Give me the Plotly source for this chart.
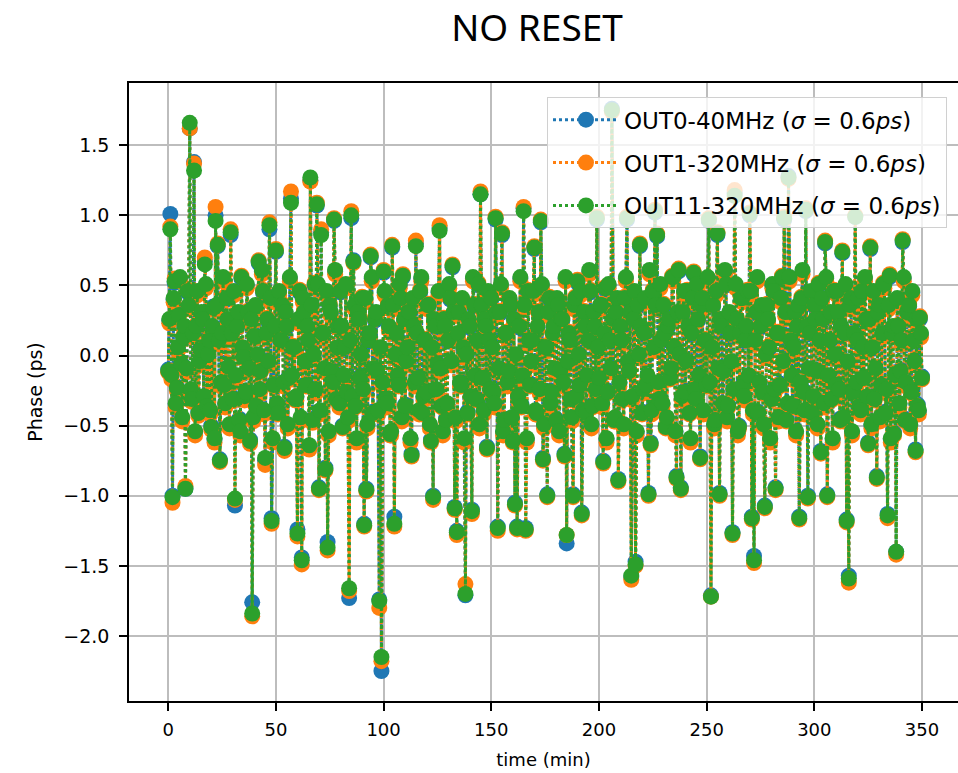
import plotly.graph_objects as go

# whole-minute samples
time_min = list(range(0, 351))
# half-minute samples
time_half = [t + 0.5 for t in range(0, 350)]

out0_40mhz = [
    -0.10, 1.01, -1.00, 0.52, -0.22, 0.30, -0.05, 0.12, -0.95, 0.45,
    1.62, -0.30, 1.38, 0.20, -0.40, 0.05, 0.25, 0.67, -0.35, 0.10,
    -0.50, 0.35, 1.00, 0.78, -0.74, 0.15, -0.20, 0.40, -0.10, 0.86,
    -0.30, -1.07, 0.20, -0.45, 0.55, 0.00, -0.25, 0.30, -0.60, -1.76,
    0.15, -0.35, 0.66, -0.10, 0.45, -0.75, 0.25, 0.90, -1.16, -0.20,
    0.74, -0.40, 0.10, 0.35, -0.65, 0.20, -0.15, 1.12, 0.05, -0.30,
    -1.24, 0.45, -1.44, 0.30, -0.20, 0.10, 1.25, -0.45, 0.50, 1.07,
    -0.94, 0.88, 0.15, -0.80, -1.33, 0.35, -0.10, 0.96, -0.30, 0.20,
    0.45, -0.50, 0.05, -0.25, -1.73, 0.98, 0.68, -0.35, 0.30, -0.15,
    0.40, -1.20, -0.95, 0.10, 0.70, -0.40, 0.25, -0.10, -1.74, -2.25,
    0.59, -0.30, 0.35, -0.55, 0.77, -1.15, 0.15, -0.20, 0.40, 0.56,
    -0.35, 0.05, 0.30, -0.70, 0.20, 0.80, -0.15, 0.45, -0.40, 0.10,
    -0.25, 0.35, -0.60, -1.00, 0.20, -0.05, 0.91, -0.35, 0.25, -0.45,
    0.10, 0.40, 0.63, -1.08, -1.25, 0.30, -0.20, 0.05, -1.71, -0.40,
    0.20, -1.10, 0.35, -0.30, 0.50, 1.15, -0.15, 0.25, -0.65, 0.10,
    0.40, -0.25, 0.97, -1.22, 0.30, 0.86, -0.45, 0.15, -0.10, 0.35,
    -0.60, -1.05, -1.22, 0.20, -0.35, 1.05, -1.23, 0.45, -0.20, 0.10,
    0.76, -0.40, 0.30, 0.95, -0.73, 0.05, -0.99, 0.40, -0.25, 0.20,
    -0.45, 0.35, -0.10, 0.25, -0.70, -1.34, 0.15, -0.30, -0.99, 0.40,
    0.52, -0.20, -1.12, 0.30, -0.40, 0.10, 0.45, -0.35, 0.20, 0.97,
    -0.15, 0.35, -0.75, 0.47, -0.25, 0.10, 1.76, -0.45, 0.30, -0.88,
    0.20, -0.30, 0.40, 0.97, -0.10, -1.58, 0.25, -1.47, 0.35, 0.78,
    -0.40, 0.15, -0.20, -0.98, -0.62, 0.45, 1.02, 0.85, -0.30, 0.10,
    0.35, -0.50, 0.20, -0.15, 0.55, 0.05, -0.86, 0.60, -0.94, 0.30,
    -0.25, 0.45, -0.40, 0.15, 0.58, -0.30, 0.25, -0.72, 0.40, 0.10,
    -0.20, 0.96, -1.71, 0.35, -0.45, 0.86, -0.98, 0.20, -0.10, 0.50,
    -0.35, 0.15, -1.26, 1.16, 0.25, -0.50, 0.40, -0.20, 0.10, 0.45,
    1.00, -1.15, -1.43, 0.30, -0.40, 0.20, -0.25, -1.07, 0.35, 0.05,
    -0.30, 0.45, -0.94, 0.15, -0.20, 0.55, 0.97, -0.45, 1.28, 0.10,
    -0.35, 0.30, 0.20, -1.15, 0.40, -0.25, 1.03, -1.00, 0.15, -0.40,
    0.35, -0.10, 0.50, -0.68, 0.25, 0.80, -0.99, 0.10, -0.30, 0.45,
    -0.20, 0.30, -0.45, 0.73, 0.15, -1.17, -1.57, 0.40, -0.25, 0.99,
    0.10, -0.35, 0.45, -0.15, 0.25, -0.62, 0.76, 0.05, -0.30, -0.86,
    0.35, -0.20, 0.50, -0.40, -1.13, 0.56, 0.15, -0.55, -1.40, 0.20,
    -0.10, 0.81, -0.45, 0.30, 0.35, -0.25, 0.10, -0.67, -0.35, 0.26,
    -0.15,
]
out0_40mhz_half = [
    0.25, -0.15, 0.40, -0.35, 0.05, 0.55, -0.45, 0.20, -0.10, 0.35,
    -0.25, 0.15, -0.55, 0.45, -0.05, 0.30, -0.30, 0.50, 0.00, -0.40,
    0.20, -0.60, 0.35, 0.10, -0.20, 0.55, -0.35, 0.25, -0.50, 0.15,
    0.45, -0.15, 0.30, -0.55, 0.05, -0.30, 0.50, -0.10, 0.25, -0.45,
    0.35, 0.00, -0.25, 0.60, -0.40, 0.15, -0.05, 0.40, -0.60, 0.20,
    -0.35, 0.45, 0.10, -0.20, 0.30, -0.50, 0.55, -0.15, 0.05, -0.30,
    0.25, -0.45, 0.40, -0.05, 0.20, -0.65, 0.35, 0.00, -0.25, 0.50,
    -0.40, 0.15, -0.10, 0.45, -0.55, 0.30, -0.20, 0.60, 0.05, -0.35,
    0.20, -0.15, 0.50, -0.45, 0.10, -0.30, 0.35, -0.60, 0.25, 0.00,
    -0.25, 0.40, -0.50, 0.15, 0.55, -0.10, 0.30, -0.40, 0.05, -0.20,
    0.45, -0.35, 0.20, -0.55, 0.35, 0.00, -0.15, 0.50, -0.45, 0.25,
    -0.05, 0.30, -0.60, 0.40, -0.20, 0.15, -0.40, 0.55, -0.30, 0.10,
    0.35, -0.50, 0.05, 0.25, -0.25, 0.45, -0.10, -0.55, 0.20, -0.35,
    0.50, -0.05, 0.30, -0.45, 0.15, -0.20, 0.40, -0.60, 0.00, 0.25,
    -0.30, 0.55, -0.15, 0.10, -0.50, 0.35, -0.40, 0.20, 0.45, -0.25,
    0.05, -0.35, 0.30, -0.10, 0.50, -0.55, 0.15, -0.20, 0.40, -0.45,
    0.25, 0.00, -0.30, 0.55, -0.15, 0.35, -0.60, 0.10, -0.05, 0.45,
    -0.40, 0.20, -0.25, 0.50, -0.50, 0.05, 0.30, -0.35, 0.15, -0.10,
    0.40, -0.55, 0.25, -0.20, 0.55, -0.05, 0.10, -0.45, 0.35, -0.30,
    0.00, 0.45, -0.40, 0.20, -0.15, 0.60, -0.50, 0.30, -0.25, 0.05,
    0.35, -0.35, 0.15, -0.60, 0.50, -0.10, 0.25, -0.45, 0.40, -0.20,
    0.10, -0.50, 0.55, -0.05, 0.30, -0.30, 0.45, -0.55, 0.00, 0.20,
    -0.25, 0.40, -0.15, 0.60, -0.40, 0.05, 0.35, -0.20, 0.50, -0.35,
    0.15, -0.45, 0.25, -0.10, 0.55, -0.55, 0.30, 0.00, -0.30, 0.45,
    -0.05, 0.20, -0.60, 0.40, -0.25, 0.50, -0.15, 0.35, -0.40, 0.10,
    0.55, -0.20, 0.05, -0.50, 0.45, -0.10, 0.25, -0.35, 0.60, -0.45,
    0.30, -0.05, -0.25, 0.50, -0.55, 0.15, 0.40, -0.30, 0.20, -0.15,
    0.45, -0.40, 0.10, 0.55, -0.20, 0.35, -0.50, 0.00, 0.25, -0.60,
    0.50, -0.25, 0.15, -0.45, 0.40, -0.05, 0.30, -0.35, 0.55, -0.15,
    0.05, -0.55, 0.35, -0.20, 0.60, -0.40, 0.20, -0.10, 0.45, -0.30,
    0.25, -0.50, 0.10, 0.40, -0.35, 0.55, -0.15, 0.30, -0.60, 0.00,
    0.45, -0.25, 0.20, -0.45, 0.50, -0.05, 0.35, -0.55, 0.15, -0.20,
    0.40, -0.40, 0.05, 0.55, -0.30, 0.25, -0.50, 0.45, -0.10, 0.30,
    -0.45, 0.15, 0.50, -0.25, 0.35, -0.60, 0.20, -0.15, 0.40, -0.35,
    0.10, 0.55, -0.20, 0.30, -0.50, 0.45, -0.05, 0.25, -0.40, 0.15,
]

out1_320mhz = [
    -0.12, 0.92, -1.05, 0.55, -0.25, 0.28, -0.08, 0.14, -0.93, 0.47,
    1.62, -0.33, 1.37, 0.22, -0.43, 0.03, 0.27, 0.70, -0.37, 0.12,
    -0.53, 0.33, 1.06, 0.80, -0.76, 0.17, -0.22, 0.43, -0.13, 0.90,
    -0.32, -1.03, 0.22, -0.47, 0.57, -0.02, -0.28, 0.32, -0.63, -1.86,
    0.13, -0.37, 0.68, -0.12, 0.47, -0.78, 0.27, 0.95, -1.20, -0.22,
    0.76, -0.42, 0.12, 0.37, -0.68, 0.22, -0.17, 1.17, 0.07, -0.32,
    -1.29, 0.47, -1.49, 0.32, -0.22, 0.12, 1.24, -0.48, 0.52, 1.09,
    -0.96, 0.90, 0.17, -0.82, -1.39, 0.37, -0.12, 0.98, -0.32, 0.22,
    0.47, -0.52, 0.07, -0.27, -1.68, 1.03, 0.66, -0.37, 0.32, -0.17,
    0.42, -1.22, -0.97, 0.12, 0.72, -0.42, 0.27, -0.12, -1.80, -2.18,
    0.61, -0.32, 0.37, -0.57, 0.79, -1.22, 0.17, -0.22, 0.42, 0.58,
    -0.37, 0.07, 0.32, -0.72, 0.22, 0.82, -0.17, 0.47, -0.42, 0.12,
    -0.27, 0.37, -0.62, -1.03, 0.22, -0.07, 0.93, -0.37, 0.27, -0.47,
    0.12, 0.42, 0.65, -1.10, -1.28, 0.32, -0.22, 0.07, -1.63, -0.42,
    0.22, -1.13, 0.37, -0.32, 0.52, 1.17, -0.17, 0.27, -0.67, 0.12,
    0.42, -0.27, 0.99, -1.25, 0.32, 0.88, -0.47, 0.17, -0.12, 0.37,
    -0.62, -1.07, -1.24, 0.22, -0.37, 1.06, -1.25, 0.47, -0.22, 0.12,
    0.78, -0.42, 0.32, 0.97, -0.75, 0.07, -1.01, 0.42, -0.27, 0.22,
    -0.47, 0.37, -0.12, 0.27, -0.72, -1.28, 0.17, -0.32, -1.01, 0.42,
    0.54, -0.22, -1.14, 0.32, -0.42, 0.12, 0.47, -0.37, 0.22, 0.99,
    -0.17, 0.37, -0.77, 0.49, -0.27, 0.12, 1.74, -0.47, 0.32, -0.90,
    0.22, -0.32, 0.42, 0.99, -0.12, -1.60, 0.27, -1.50, 0.37, 0.80,
    -0.42, 0.17, -0.22, -1.00, -0.64, 0.47, 1.04, 0.87, -0.32, 0.12,
    0.37, -0.52, 0.22, -0.17, 0.57, 0.07, -0.88, 0.62, -0.96, 0.32,
    -0.27, 0.47, -0.42, 0.17, 0.60, -0.32, 0.27, -0.74, 0.42, 0.12,
    -0.22, 0.98, -1.72, 0.37, -0.47, 0.88, -1.00, 0.22, -0.12, 0.52,
    -0.37, 0.17, -1.28, 1.18, 0.27, -0.52, 0.42, -0.22, 0.12, 0.47,
    1.02, -1.17, -1.48, 0.32, -0.42, 0.22, -0.27, -1.09, 0.37, 0.07,
    -0.32, 0.47, -0.96, 0.17, -0.22, 0.57, 0.99, -0.47, 1.26, 0.12,
    -0.37, 0.32, 0.22, -1.17, 0.42, -0.27, 1.05, -1.02, 0.17, -0.42,
    0.37, -0.12, 0.52, -0.70, 0.27, 0.82, -1.01, 0.12, -0.32, 0.47,
    -0.22, 0.32, -0.47, 0.75, 0.17, -1.19, -1.62, 0.42, -0.27, 1.00,
    0.12, -0.37, 0.47, -0.17, 0.27, -0.64, 0.78, 0.07, -0.32, -0.88,
    0.37, -0.22, 0.52, -0.42, -1.16, 0.58, 0.17, -0.57, -1.42, 0.22,
    -0.12, 0.83, -0.47, 0.32, 0.37, -0.27, 0.12, -0.69, -0.37, 0.28,
    -0.17,
]
out1_320mhz_half = [
    0.23, -0.17, 0.38, -0.37, 0.03, 0.53, -0.47, 0.18, -0.12, 0.33,
    -0.27, 0.13, -0.57, 0.43, -0.07, 0.28, -0.32, 0.48, -0.02, -0.42,
    0.18, -0.62, 0.33, 0.08, -0.22, 0.53, -0.37, 0.23, -0.52, 0.13,
    0.43, -0.17, 0.28, -0.57, 0.03, -0.32, 0.48, -0.12, 0.23, -0.47,
    0.33, -0.02, -0.27, 0.58, -0.42, 0.13, -0.07, 0.38, -0.62, 0.18,
    -0.37, 0.43, 0.08, -0.22, 0.28, -0.52, 0.53, -0.17, 0.03, -0.32,
    0.23, -0.47, 0.38, -0.07, 0.18, -0.67, 0.33, -0.02, -0.27, 0.48,
    -0.42, 0.13, -0.12, 0.43, -0.57, 0.28, -0.22, 0.58, 0.03, -0.37,
    0.18, -0.17, 0.48, -0.47, 0.08, -0.32, 0.33, -0.62, 0.23, -0.02,
    -0.27, 0.38, -0.52, 0.13, 0.53, -0.12, 0.28, -0.42, 0.03, -0.22,
    0.43, -0.37, 0.18, -0.57, 0.33, -0.02, -0.17, 0.48, -0.47, 0.23,
    -0.07, 0.28, -0.62, 0.38, -0.22, 0.13, -0.42, 0.53, -0.32, 0.08,
    0.33, -0.52, 0.03, 0.23, -0.27, 0.43, -0.12, -0.57, 0.18, -0.37,
    0.48, -0.07, 0.28, -0.47, 0.13, -0.22, 0.38, -0.62, -0.02, 0.23,
    -0.32, 0.53, -0.17, 0.08, -0.52, 0.33, -0.42, 0.18, 0.43, -0.27,
    0.03, -0.37, 0.28, -0.12, 0.48, -0.57, 0.13, -0.22, 0.38, -0.47,
    0.23, -0.02, -0.32, 0.53, -0.17, 0.33, -0.62, 0.08, -0.07, 0.43,
    -0.42, 0.18, -0.27, 0.48, -0.52, 0.03, 0.28, -0.37, 0.13, -0.12,
    0.38, -0.57, 0.23, -0.22, 0.53, -0.07, 0.08, -0.47, 0.33, -0.32,
    -0.02, 0.43, -0.42, 0.18, -0.17, 0.58, -0.52, 0.28, -0.27, 0.03,
    0.33, -0.37, 0.13, -0.62, 0.48, -0.12, 0.23, -0.47, 0.38, -0.22,
    0.08, -0.52, 0.53, -0.07, 0.28, -0.32, 0.43, -0.57, -0.02, 0.18,
    -0.27, 0.38, -0.17, 0.58, -0.42, 0.03, 0.33, -0.22, 0.48, -0.37,
    0.13, -0.47, 0.23, -0.12, 0.53, -0.57, 0.28, -0.02, -0.32, 0.43,
    -0.07, 0.18, -0.62, 0.38, -0.27, 0.48, -0.17, 0.33, -0.42, 0.08,
    0.53, -0.22, 0.03, -0.52, 0.43, -0.12, 0.23, -0.37, 0.58, -0.47,
    0.28, -0.07, -0.27, 0.48, -0.57, 0.13, 0.38, -0.32, 0.18, -0.17,
    0.43, -0.42, 0.08, 0.53, -0.22, 0.33, -0.52, -0.02, 0.23, -0.62,
    0.48, -0.27, 0.13, -0.47, 0.38, -0.07, 0.28, -0.37, 0.53, -0.17,
    0.03, -0.57, 0.33, -0.22, 0.58, -0.42, 0.18, -0.12, 0.43, -0.32,
    0.23, -0.52, 0.08, 0.38, -0.37, 0.53, -0.17, 0.28, -0.62, -0.02,
    0.43, -0.27, 0.18, -0.47, 0.48, -0.07, 0.33, -0.57, 0.13, -0.22,
    0.38, -0.42, 0.03, 0.53, -0.32, 0.23, -0.52, 0.43, -0.12, 0.28,
    -0.47, 0.13, 0.48, -0.27, 0.33, -0.62, 0.18, -0.17, 0.38, -0.37,
    0.08, 0.53, -0.22, 0.28, -0.52, 0.43, -0.07, 0.23, -0.42, 0.13,
]

out11_320mhz = [
    -0.11, 0.90, -1.01, 0.53, -0.23, 0.29, -0.06, 0.13, -0.95, 0.46,
    1.66, -0.31, 1.32, 0.21, -0.41, 0.04, 0.26, 0.65, -0.36, 0.11,
    -0.51, 0.34, 0.96, 0.79, -0.75, 0.16, -0.21, 0.41, -0.08, 0.88,
    -0.31, -1.02, 0.21, -0.46, 0.56, -0.01, -0.26, 0.31, -0.61, -1.84,
    0.14, -0.36, 0.67, -0.11, 0.46, -0.73, 0.26, 0.93, -1.18, -0.21,
    0.75, -0.41, 0.11, 0.36, -0.66, 0.21, -0.16, 1.09, 0.06, -0.31,
    -1.27, 0.46, -1.46, 0.31, -0.21, 0.11, 1.27, -0.46, 0.51, 1.08,
    -0.95, 0.86, 0.16, -0.81, -1.37, 0.36, -0.11, 0.97, -0.31, 0.21,
    0.46, -0.51, 0.06, -0.26, -1.66, 1.00, 0.67, -0.36, 0.31, -0.16,
    0.41, -1.21, -0.96, 0.11, 0.71, -0.41, 0.26, -0.11, -1.75, -2.15,
    0.60, -0.31, 0.36, -0.56, 0.78, -1.20, 0.16, -0.21, 0.41, 0.57,
    -0.36, 0.06, 0.31, -0.71, 0.21, 0.78, -0.16, 0.46, -0.41, 0.11,
    -0.26, 0.36, -0.61, -1.01, 0.21, -0.06, 0.89, -0.36, 0.26, -0.46,
    0.11, 0.41, 0.64, -1.09, -1.26, 0.31, -0.21, 0.06, -1.70, -0.41,
    0.21, -1.11, 0.36, -0.31, 0.51, 1.15, -0.16, 0.26, -0.66, 0.11,
    0.41, -0.26, 0.98, -1.23, 0.31, 0.87, -0.46, 0.16, -0.11, 0.36,
    -0.61, -1.06, -1.23, 0.21, -0.36, 1.03, -1.24, 0.46, -0.21, 0.11,
    0.77, -0.41, 0.31, 0.96, -0.74, 0.06, -1.00, 0.41, -0.26, 0.21,
    -0.46, 0.36, -0.11, 0.26, -0.71, -1.28, 0.16, -0.31, -1.00, 0.41,
    0.53, -0.21, -1.13, 0.31, -0.41, 0.11, 0.46, -0.36, 0.21, 0.98,
    -0.16, 0.36, -0.76, 0.48, -0.26, 0.11, 1.75, -0.46, 0.31, -0.89,
    0.21, -0.31, 0.41, 0.98, -0.11, -1.57, 0.26, -1.49, 0.36, 0.79,
    -0.41, 0.16, -0.21, -0.99, -0.63, 0.46, 1.03, 0.86, -0.31, 0.11,
    0.36, -0.51, 0.21, -0.16, 0.56, 0.06, -0.87, 0.61, -0.95, 0.31,
    -0.26, 0.46, -0.41, 0.16, 0.59, -0.31, 0.26, -0.73, 0.41, 0.11,
    -0.21, 0.97, -1.72, 0.36, -0.46, 0.87, -0.99, 0.21, -0.11, 0.51,
    -0.36, 0.16, -1.27, 1.14, 0.26, -0.51, 0.41, -0.21, 0.11, 0.46,
    1.01, -1.16, -1.46, 0.31, -0.41, 0.21, -0.26, -1.08, 0.36, 0.06,
    -0.31, 0.46, -0.95, 0.16, -0.21, 0.56, 0.98, -0.46, 1.27, 0.11,
    -0.36, 0.31, 0.21, -1.16, 0.41, -0.26, 1.04, -1.01, 0.16, -0.41,
    0.36, -0.11, 0.51, -0.69, 0.26, 0.81, -1.00, 0.11, -0.31, 0.46,
    -0.21, 0.31, -0.46, 0.74, 0.16, -1.18, -1.59, 0.41, -0.26, 0.99,
    0.11, -0.36, 0.46, -0.16, 0.26, -0.63, 0.77, 0.06, -0.31, -0.87,
    0.36, -0.21, 0.51, -0.41, -1.14, 0.57, 0.16, -0.56, -1.40, 0.21,
    -0.11, 0.82, -0.46, 0.31, 0.36, -0.26, 0.11, -0.68, -0.36, 0.27,
    -0.16,
]
out11_320mhz_half = [
    0.26, -0.14, 0.41, -0.34, 0.06, 0.56, -0.44, 0.21, -0.09, 0.36,
    -0.24, 0.16, -0.54, 0.46, -0.04, 0.31, -0.29, 0.51, 0.01, -0.39,
    0.21, -0.59, 0.36, 0.11, -0.19, 0.56, -0.34, 0.26, -0.49, 0.16,
    0.46, -0.14, 0.31, -0.54, 0.06, -0.29, 0.51, -0.09, 0.26, -0.44,
    0.36, 0.01, -0.24, 0.61, -0.39, 0.16, -0.04, 0.41, -0.59, 0.21,
    -0.34, 0.46, 0.11, -0.19, 0.31, -0.49, 0.56, -0.14, 0.06, -0.29,
    0.26, -0.44, 0.41, -0.04, 0.21, -0.64, 0.36, 0.01, -0.24, 0.51,
    -0.39, 0.16, -0.09, 0.46, -0.54, 0.31, -0.19, 0.61, 0.06, -0.34,
    0.21, -0.14, 0.51, -0.44, 0.11, -0.29, 0.36, -0.59, 0.26, 0.01,
    -0.24, 0.41, -0.49, 0.16, 0.56, -0.09, 0.31, -0.39, 0.06, -0.19,
    0.46, -0.34, 0.21, -0.54, 0.36, 0.01, -0.14, 0.51, -0.44, 0.26,
    -0.04, 0.31, -0.59, 0.41, -0.19, 0.16, -0.39, 0.56, -0.29, 0.11,
    0.36, -0.49, 0.06, 0.26, -0.24, 0.46, -0.09, -0.54, 0.21, -0.34,
    0.51, -0.04, 0.31, -0.44, 0.16, -0.19, 0.41, -0.59, 0.01, 0.26,
    -0.29, 0.56, -0.14, 0.11, -0.49, 0.36, -0.39, 0.21, 0.46, -0.24,
    0.06, -0.34, 0.31, -0.09, 0.51, -0.54, 0.16, -0.19, 0.41, -0.44,
    0.26, 0.01, -0.29, 0.56, -0.14, 0.36, -0.59, 0.11, -0.04, 0.46,
    -0.39, 0.21, -0.24, 0.51, -0.49, 0.06, 0.31, -0.34, 0.16, -0.09,
    0.41, -0.54, 0.26, -0.19, 0.56, -0.04, 0.11, -0.44, 0.36, -0.29,
    0.01, 0.46, -0.39, 0.21, -0.14, 0.61, -0.49, 0.31, -0.24, 0.06,
    0.36, -0.34, 0.16, -0.59, 0.51, -0.09, 0.26, -0.44, 0.41, -0.19,
    0.11, -0.49, 0.56, -0.04, 0.31, -0.29, 0.46, -0.54, 0.01, 0.21,
    -0.24, 0.41, -0.14, 0.61, -0.39, 0.06, 0.36, -0.19, 0.51, -0.34,
    0.16, -0.44, 0.26, -0.09, 0.56, -0.54, 0.31, 0.01, -0.29, 0.46,
    -0.04, 0.21, -0.59, 0.41, -0.24, 0.51, -0.14, 0.36, -0.39, 0.11,
    0.56, -0.19, 0.06, -0.49, 0.46, -0.09, 0.26, -0.34, 0.61, -0.44,
    0.31, -0.04, -0.24, 0.51, -0.54, 0.16, 0.41, -0.29, 0.21, -0.14,
    0.46, -0.39, 0.11, 0.56, -0.19, 0.36, -0.49, 0.01, 0.26, -0.59,
    0.51, -0.24, 0.16, -0.44, 0.41, -0.04, 0.31, -0.34, 0.56, -0.14,
    0.06, -0.54, 0.36, -0.19, 0.61, -0.39, 0.21, -0.09, 0.46, -0.29,
    0.26, -0.49, 0.11, 0.41, -0.34, 0.56, -0.14, 0.31, -0.59, 0.01,
    0.46, -0.24, 0.21, -0.44, 0.51, -0.04, 0.36, -0.54, 0.16, -0.19,
    0.41, -0.39, 0.06, 0.56, -0.29, 0.26, -0.49, 0.46, -0.09, 0.31,
    -0.44, 0.16, 0.51, -0.24, 0.36, -0.59, 0.21, -0.14, 0.41, -0.34,
    0.11, 0.56, -0.19, 0.31, -0.49, 0.46, -0.04, 0.26, -0.39, 0.16,
]

series_names = [
    "OUT0-40MHz (<i>σ</i> = 0.6<i>ps</i>)",
    "OUT1-320MHz (<i>σ</i> = 0.6<i>ps</i>)",
    "OUT11-320MHz (<i>σ</i> = 0.6<i>ps</i>)",
]
series_colors = ["#1f77b4", "#ff7f0e", "#2ca02c"]
series_whole = [out0_40mhz, out1_320mhz, out11_320mhz]
series_half = [out0_40mhz_half, out1_320mhz_half, out11_320mhz_half]

x_ticks = [0, 50, 100, 150, 200, 250, 300, 350]
y_ticks = [-2.0, -1.5, -1.0, -0.5, 0.0, 0.5, 1.0, 1.5]

fig = go.Figure()
for i in range(3):
    pairs = sorted(zip(time_min + time_half, series_whole[i] + series_half[i]))
    xs = [p[0] for p in pairs]
    ys = [p[1] for p in pairs]
    fig.add_trace(go.Scatter(
        x=xs, y=ys, name=series_names[i], mode="lines+markers",
        line=dict(color=series_colors[i], width=3, dash="dot"),
        marker=dict(color=series_colors[i], size=16),
        legendgroup="g%d" % i,
    ))

x_font = dict(family="DejaVu Sans", size=18, color="black")
y_font = dict(family="DejaVu Sans", size=19, color="black")
fig.update_layout(
    width=958, height=773,
    margin=dict(l=129, r=0, t=83, b=72),
    paper_bgcolor="white", plot_bgcolor="white",
    title=dict(text="NO RESET", x=537 / 958, xref="container", xanchor="center",
               y=1 - 28 / 773, yref="container", yanchor="middle",
               font=dict(family="Noto Sans", size=37, color="black")),
    showlegend=True,
    legend=dict(x=0.9867, y=0.977, xanchor="right", yanchor="top",
                bgcolor="rgba(255,255,255,0.8)", bordercolor="#d0d0d0", borderwidth=1,
                font=dict(family="DejaVu Sans", size=23, color="black"),
                tracegroupgap=10, itemwidth=66),
)
fig.update_xaxes(
    range=[-18.2, 366.7], tickvals=x_ticks, ticks="outside", ticklen=8, tickwidth=1.5,
    tickcolor="black", tickfont=x_font, showgrid=True, gridcolor="#bdbdbd", gridwidth=1.5,
    showline=True, linecolor="black", linewidth=1.5, mirror=True, zeroline=False,
    ticklabelstandoff=4,
    title=dict(text="time (min)", font=x_font, standoff=14),
)
fig.update_yaxes(
    range=[-2.464, 1.944], tickvals=y_ticks, tickformat=".1f", ticks="outside", ticklen=8,
    tickwidth=1.5, tickcolor="black", tickfont=y_font, showgrid=True, gridcolor="#bdbdbd",
    gridwidth=1.5, showline=True, linecolor="black", linewidth=1.5, mirror=False, zeroline=False,
    ticklabelstandoff=6,
    title=dict(text="Phase (ps)", font=y_font, standoff=16),
)

fig.write_html("out.html", config={"displayModeBar": False},
               post_script="document.body.style.margin='0';")
